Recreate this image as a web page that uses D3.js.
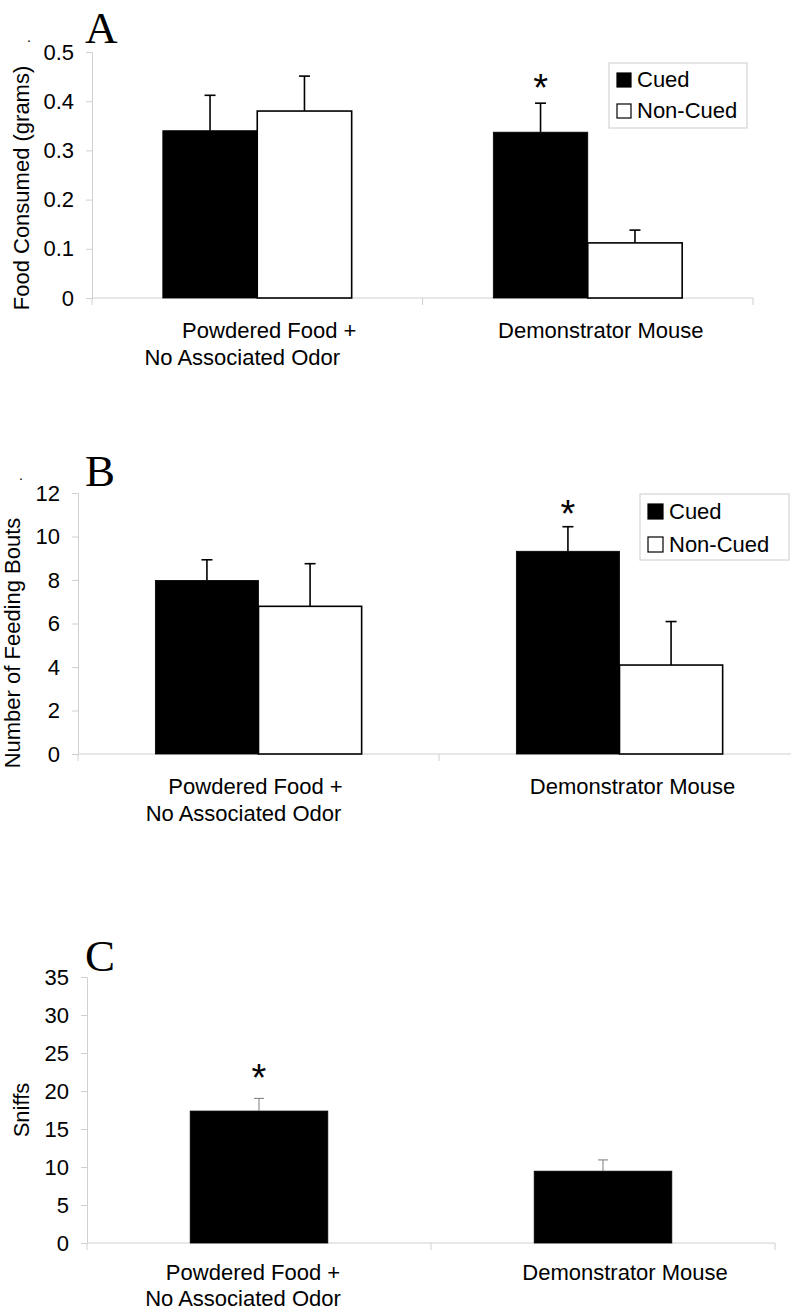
<!DOCTYPE html>
<html>
<head>
<meta charset="utf-8">
<script src="https://cdn.jsdelivr.net/npm/d3@7"></script>
<style>
  body { margin: 0; background: #fff; }
  svg { display: block; font-family: "Liberation Sans", Arial, sans-serif; }
</style>
</head>
<body>
<div id="chart"></div>
<script>
// categories and series shared by the three panels
const categoryLines = [["Powdered Food +", "No Associated Odor"], ["Demonstrator Mouse"]];
const seriesNames = ["Cued", "Non-Cued"];

// A: food consumed (grams)
const foodCued = [0.340, 0.337];
const foodCuedErr = [0.072, 0.059];
const foodNonCued = [0.380, 0.112];
const foodNonCuedErr = [0.071, 0.026];
const foodTicks = [0, 0.1, 0.2, 0.3, 0.4, 0.5];

// B: number of feeding bouts
const boutsCued = [7.98, 9.32];
const boutsCuedErr = [0.95, 1.13];
const boutsNonCued = [6.79, 4.09];
const boutsNonCuedErr = [1.96, 2.0];
const boutsTicks = [0, 2, 4, 6, 8, 10, 12];

// C: sniffs (cued only)
const sniffs = [17.36, 9.45];
const sniffsErr = [1.67, 1.48];
const sniffTicks = [0, 5, 10, 15, 20, 25, 30, 35];

const W = 791, H = 1313;
const svg = d3.select("#chart").append("svg")
    .attr("width", W).attr("height", H)
    .attr("viewBox", [0, 0, W, H]);

const axisColor = "#d0d0d0";

function drawPanel(p) {
  const g = svg.append("g");
  const y = d3.scaleLinear().domain([0, d3.max(p.ticks)]).range([p.y0, p.y1]);
  const x0 = d3.scaleBand().domain(d3.range(categoryLines.length)).range([p.xl, p.xr]);
  const x1 = d3.scaleBand().domain(p.series.map(s => s.name))
      .range([0, x0.bandwidth()]).paddingInner(0).paddingOuter(0.75);

  // y axis
  const yAxis = g.append("g")
      .attr("transform", `translate(${p.xl},0)`)
      .call(d3.axisLeft(y).tickValues(p.ticks).tickSize(6).tickPadding(12).tickFormat(p.fmt));
  yAxis.select(".domain").attr("stroke", axisColor);
  yAxis.selectAll(".tick line").attr("stroke", axisColor);
  yAxis.selectAll(".tick text").attr("font-size", 22).attr("fill", "#000")
      .attr("font-family", "Liberation Sans, Arial, sans-serif");
  g.append("line")
      .attr("x1", p.xl).attr("x2", p.xl)
      .attr("y1", p.y0).attr("y2", p.y0 + 7)
      .attr("stroke", axisColor);

  // x axis baseline and category dividers
  g.append("line")
      .attr("x1", p.xl).attr("x2", p.xr)
      .attr("y1", p.y0).attr("y2", p.y0)
      .attr("stroke", axisColor);
  x0.domain().forEach(i => {
    const xe = x0(i) + x0.bandwidth();
    g.append("line")
        .attr("x1", xe).attr("x2", xe)
        .attr("y1", p.y0).attr("y2", p.y0 + 7)
        .attr("stroke", axisColor);
  });

  // bars
  p.series.forEach(s => {
    g.selectAll(null).data(s.values).join("rect")
        .attr("x", (d, i) => x0(i) + x1(s.name))
        .attr("y", d => y(d))
        .attr("width", x1.bandwidth())
        .attr("height", d => y(0) - y(d))
        .attr("fill", s.fill)
        .attr("stroke", "#000")
        .attr("stroke-width", s.fill === "#fff" ? 1.6 : 0.8);
  });

  // error bars (upper only)
  p.series.forEach(s => {
    const cx = i => x0(i) + x1(s.name) + x1.bandwidth() / 2;
    s.values.forEach((v, i) => {
      const top = y(v + s.err[i]);
      g.append("line")
          .attr("x1", cx(i)).attr("x2", cx(i))
          .attr("y1", y(v)).attr("y2", top)
          .attr("stroke", p.errColor).attr("stroke-width", p.errWidth);
      g.append("line")
          .attr("x1", cx(i) - p.cap / 2).attr("x2", cx(i) + p.cap / 2)
          .attr("y1", top).attr("y2", top)
          .attr("stroke", p.errColor).attr("stroke-width", p.errWidth);
    });
  });

  // significance star
  p.stars.forEach(st => {
    const s = p.series[st.series];
    const cx = x0(st.cat) + x1(s.name) + x1.bandwidth() / 2;
    g.append("text")
        .attr("x", cx)
        .attr("y", y(s.values[st.cat] + s.err[st.cat]) - st.gap)
        .attr("text-anchor", "middle")
        .attr("font-size", 38)
        .text("*");
  });

  // category labels
  categoryLines.forEach((lines, i) => {
    const cx = x0(i) + x0.bandwidth() / 2;
    lines.forEach((t, j) => {
      g.append("text")
          .attr("x", cx + p.labelDx[i][j])
          .attr("y", p.y0 + p.labelY + j * p.lineH)
          .attr("text-anchor", "middle")
          .attr("font-size", 22)
          .text(t);
    });
  });

  // y title
  g.append("text")
      .attr("transform", `translate(${p.titleX},${p.titleY}) rotate(-90)`)
      .attr("text-anchor", "middle")
      .attr("font-size", 22)
      .text(p.title);

  if (p.dot) {
    g.append("text").attr("x", p.dot[0]).attr("y", p.dot[1])
        .attr("font-size", 14).text(".");
  }

  // panel letter
  g.append("text")
      .attr("x", p.letterX).attr("y", p.letterY)
      .attr("font-family", "Liberation Serif, Times New Roman, serif")
      .attr("font-size", 45)
      .text(p.letter);

  // legend
  if (p.legend) {
    const L = p.legend;
    g.append("rect")
        .attr("x", L.x).attr("y", L.y).attr("width", L.w).attr("height", L.h)
        .attr("fill", "#fff").attr("stroke", "#ccc");
    p.series.forEach((s, k) => {
      const ry = L.y + L.top + k * L.row;
      g.append("rect")
          .attr("x", L.x + 8).attr("y", ry)
          .attr("width", L.sq).attr("height", L.sq)
          .attr("fill", s.fill).attr("stroke", "#000").attr("stroke-width", 1.2);
      g.append("text")
          .attr("x", L.x + 8 + L.sq + 6).attr("y", ry + L.sq)
          .attr("font-size", 22)
          .text(s.name);
    });
  }
}

const fmtFood = d => d === 0 ? "0" : d3.format(".1f")(d);

drawPanel({
  letter: "A", letterX: 85, letterY: 43,
  ticks: foodTicks, fmt: fmtFood,
  y0: 298, y1: 52, xl: 92, xr: 753,
  series: [
    { name: seriesNames[0], values: foodCued, err: foodCuedErr, fill: "#000" },
    { name: seriesNames[1], values: foodNonCued, err: foodNonCuedErr, fill: "#fff" }
  ],
  errColor: "#000", errWidth: 1.6, cap: 11,
  stars: [{ series: 0, cat: 1, gap: 2 }],
  labelDx: [[12, -15], [13]], labelY: 40, lineH: 27,
  title: "Food Consumed (grams)", titleX: 29, titleY: 188,
  dot: [27, 42],
  legend: { x: 609, y: 63, w: 138, h: 65, top: 10, row: 31, sq: 14 }
});

drawPanel({
  letter: "B", letterX: 85, letterY: 486,
  ticks: boutsTicks, fmt: d3.format("d"),
  y0: 754, y1: 493, xl: 78, xr: 800,
  series: [
    { name: seriesNames[0], values: boutsCued, err: boutsCuedErr, fill: "#000" },
    { name: seriesNames[1], values: boutsNonCued, err: boutsNonCuedErr, fill: "#fff" }
  ],
  errColor: "#000", errWidth: 1.6, cap: 11,
  stars: [{ series: 0, cat: 1, gap: 0 }],
  labelDx: [[-3, -15], [13]], labelY: 40, lineH: 27,
  title: "Number of Feeding Bouts", titleX: 20, titleY: 643,
  dot: [19, 480],
  legend: { x: 640, y: 494, w: 149, h: 66, top: 10, row: 33, sq: 15 }
});

drawPanel({
  letter: "C", letterX: 85, letterY: 971,
  ticks: sniffTicks, fmt: d3.format("d"),
  y0: 1243, y1: 977, xl: 87, xr: 775,
  series: [
    { name: seriesNames[0], values: sniffs, err: sniffsErr, fill: "#000" }
  ],
  errColor: "#7a7a7a", errWidth: 1, cap: 10,
  stars: [{ series: 0, cat: 0, gap: 7 }],
  labelDx: [[-6, -16], [22]], labelY: 37, lineH: 26,
  title: "Sniffs", titleX: 29, titleY: 1110,
  dot: null,
  legend: null
});
</script>
</body>
</html>
